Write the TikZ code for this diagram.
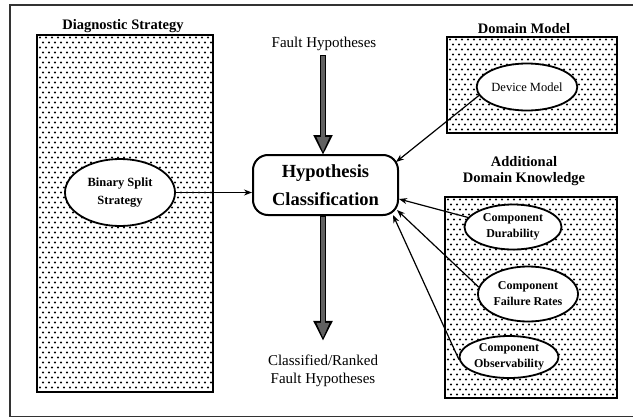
\documentclass[tikz,border=0pt]{standalone}
\usepackage{fontspec}
\setmainfont{Liberation Serif}
\usetikzlibrary{shapes.geometric,arrows.meta,calc}

\tikzset{
  frame/.style={draw=black!80, line width=1.4pt},
  heading/.style={font=\bfseries\fontsize{14.5}{16}\selectfont, align=center, inner sep=0pt},
  plain/.style={font=\fontsize{15}{18}\selectfont, align=center, inner sep=0pt},
  % stippled panel: #1 columns, #2 rows of staggered dots
  panel/.style n args={2}{draw, line width=1.8pt, inner sep=0pt,
    path picture={
      \coordinate (pnw) at (path picture bounding box.north west);
      \foreach \j in {0,...,#2}{
        \foreach \i in {0,...,#1}{
          \fill ([shift={({3+6*\i+3*mod(\j,2)},{2.5+5*\j})}]pnw) circle (1.1pt);
        }
      }
    }},
  blob/.style={ellipse, draw, line width=1.8pt, fill=white, inner sep=0pt,
    align=center, font=\bfseries\fontsize{12}{16}\selectfont},
  classbox/.style={rectangle, rounded corners=15pt, draw, line width=2pt, fill=white,
    minimum width=145pt, minimum height=60pt, align=center,
    font=\bfseries\fontsize{18.5}{28}\selectfont},
  feed/.style={line width=1.2pt, -{Stealth[length=8pt,width=6pt]}},
  bigarrow/.style={line width=6.5pt, draw=black, -{Triangle[width=18pt,length=20pt]},
    postaction={draw=black!62, line width=3.2pt, shorten >=3pt, shorten <=1pt,
      -{Triangle[width=12pt,length=15pt]}}},
}

\begin{document}
\begin{tikzpicture}[x=1pt, y=-1pt]
  \useasboundingbox (0,0) rectangle (633,418);

  % outer frame (its right side runs off the page)
  \draw[frame] (10,5) rectangle (660,416.5);

  % stippled panels
  \node[panel={30}{72}, minimum width=176pt, minimum height=357pt] (dsp) at (125,213.5) {};
  \node[panel={29}{20}, minimum width=170pt, minimum height=96pt] (dmp) at (532,85) {};
  \node[panel={29}{41}, minimum width=172pt, minimum height=201pt] (adp) at (531,297.5) {};

  % headings
  \node[heading] (dst) at (123,26) {Diagnostic Strategy};
  \node[heading] (dmt) at (524,29) {Domain Model};
  \node[heading] (adt) at (524,171) {Additional\\Domain Knowledge};
  \node[plain] (fh) at (324,44) {Fault Hypotheses};
  \node[plain] (out) at (323,371) {Classified/Ranked\\Fault Hypotheses};

  % central classifier
  \node[classbox] (hc) at (325.5,185) {Hypothesis\\Classification};

  % knowledge sources
  \node[blob, minimum width=110pt, minimum height=67pt,
        font=\bfseries\fontsize{12.5}{18}\selectfont] (bs) at (120,192.5) {Binary Split\\Strategy};
  \node[blob, minimum width=99pt, minimum height=47pt,
        font=\fontsize{12.5}{14}\selectfont] (dm) at (527,87) {Device Model};
  \node[blob, minimum width=97pt, minimum height=45pt] (dur) at (513,227) {Component\\Durability};
  \node[blob, minimum width=100pt, minimum height=55pt] (fr) at (528,294) {Component\\Failure Rates};
  \node[blob, minimum width=95pt, minimum height=42pt] (ob) at (509,357) {Component\\Observability};

  % main flow
  \draw[bigarrow] ([yshift=-4pt]fh.south -| 323,0) -- ([yshift=-1pt]hc.north -| 323,0);
  \draw[bigarrow] (hc.south -| 323,0) -- ([yshift=14pt]out.north -| 323,0);

  % inputs to the classifier
  \draw[feed] (bs.east) -- (bs.east -| hc.west);
  \draw[feed] (dm.190) -- ([shift={(-3,8)}]hc.north east);
  \draw[feed] (dur.168) -- ([shift={(0,-17)}]hc.south east);
  \draw[feed] (fr.172) -- ([shift={(-2,-6)}]hc.south east);
  \draw[feed] (ob.183) -- ([shift={(-6,-1)}]hc.south east);
\end{tikzpicture}
\end{document}
